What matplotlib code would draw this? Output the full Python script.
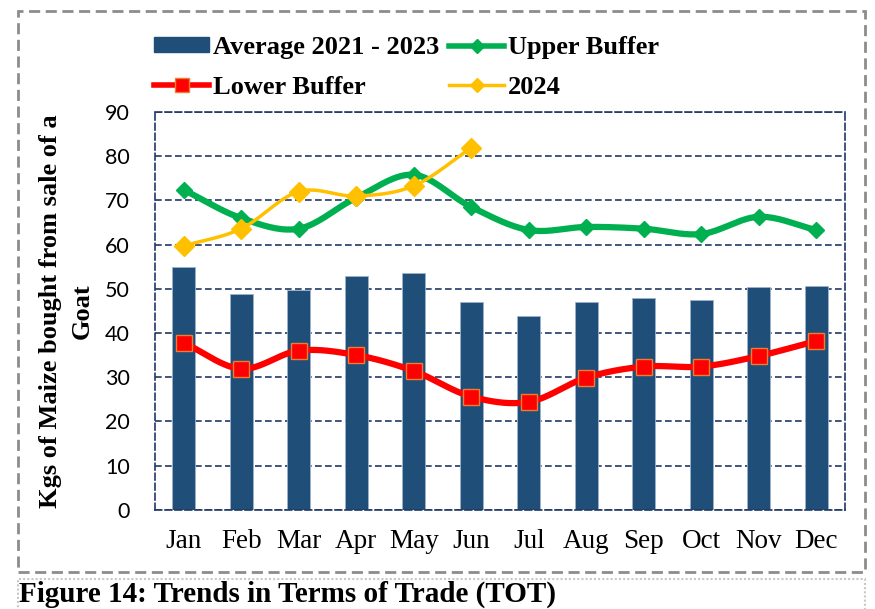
import numpy as np
import matplotlib
matplotlib.use('Agg')
import matplotlib.pyplot as plt
from matplotlib.patches import Rectangle

months = ['Jan', 'Feb', 'Mar', 'Apr', 'May', 'Jun',
          'Jul', 'Aug', 'Sep', 'Oct', 'Nov', 'Dec']
avg_2021_2023 = [55.0, 48.9, 49.8, 53.0, 53.6, 47.0, 43.9, 47.0, 48.0, 47.5, 50.5, 50.7]
upper_buffer = [72.4, 66.0, 63.6, 70.6, 75.8, 68.5, 63.3, 64.0, 63.6, 62.4, 66.3, 63.3]
lower_buffer = [37.8, 31.9, 36.0, 35.0, 31.4, 25.6, 24.4, 29.9, 32.4, 32.4, 34.8, 38.2]
y2024 = [59.7, 63.6, 72.0, 71.0, 73.3, 81.9]

NAVY = '#1F3864'
BAR = '#1F4E79'


def smooth(y, n=20):
    # catmull-rom style smoothing like Excel's "smoothed line"
    y = np.asarray(y, dtype=float)
    x = np.arange(len(y), dtype=float)
    px = np.concatenate([[2 * x[0] - x[1]], x, [2 * x[-1] - x[-2]]])
    py = np.concatenate([[2 * y[0] - y[1]], y, [2 * y[-1] - y[-2]]])
    xs, ys = [], []
    for i in range(1, len(px) - 2):
        t = np.linspace(0, 1, n, endpoint=False)
        for p, out in ((px, xs), (py, ys)):
            p0, p1, p2, p3 = p[i - 1], p[i], p[i + 1], p[i + 2]
            out.extend(0.5 * ((2 * p1) + (-p0 + p2) * t
                              + (2 * p0 - 5 * p1 + 4 * p2 - p3) * t ** 2
                              + (-p0 + 3 * p1 - 3 * p2 + p3) * t ** 3))
    xs.append(x[-1])
    ys.append(y[-1])
    return np.array(xs), np.array(ys)


plt.rcParams['font.family'] = 'Liberation Serif'

fig = plt.figure(figsize=(8.75, 6.09), dpi=100)
ax = fig.add_axes([0.177, 0.163, 0.789, 0.653])

x = np.arange(len(months))
ax.bar(x, avg_2021_2023, width=0.4, color=BAR, edgecolor='#9DB3CC', lw=0.6,
       zorder=2, label='Average 2021 - 2023')

sx, sy = smooth(upper_buffer)
ax.plot(sx, sy, color='#00B050', lw=4.5, zorder=3, solid_capstyle='round')
ax.plot(x, upper_buffer, ls='none', marker='D', ms=8, color='#00B050', zorder=3)

sx, sy = smooth(lower_buffer)
ax.plot(sx, sy, color='#FF0000', lw=4.5, zorder=4, solid_capstyle='round')
ax.plot(x, lower_buffer, ls='none', marker='s', ms=11, color='#FF0000',
        mec='#ED7D31', mew=1, zorder=4)

sx, sy = smooth(y2024)
ax.plot(sx, sy, color='#FFC000', lw=2.5, zorder=5, solid_capstyle='round')
ax.plot(x[:len(y2024)], y2024, ls='none', marker='D', ms=10, color='#FFC000', zorder=5)

# legend handles
h_bar = Rectangle((0, 0), 1, 1, color=BAR)
h_up, = ax.plot([], [], color='#00B050', lw=4, marker='D', ms=7)
h_lo, = ax.plot([], [], color='#FF0000', lw=4, marker='s', ms=10, mec='#ED7D31')
h_24, = ax.plot([], [], color='#FFC000', lw=2.5, marker='D', ms=7)
fig.legend([h_bar, h_lo, h_up, h_24],
           ['Average 2021 - 2023', 'Lower Buffer', 'Upper Buffer', '2024'],
           ncol=2, loc='upper left', bbox_to_anchor=(0.161, 0.962),
           frameon=False, prop={'weight': 'bold', 'size': 19},
           handlelength=2.1, handleheight=0.5, handletextpad=0.15,
           columnspacing=0.35, labelspacing=0.62, borderpad=0)

ax.set_xlim(-0.5, 11.5)
ax.set_ylim(0, 90)
ax.set_yticks(np.arange(0, 91, 10))
ax.set_xticks(x)
ax.set_xticklabels(months)
ax.tick_params(axis='x', length=0, labelsize=19.5, pad=14)
ax.tick_params(axis='y', length=0, labelsize=15.5, pad=18)
for lab in ax.get_yticklabels():
    lab.set_family('Lato')
ax.yaxis.grid(True, color=NAVY, ls=(0, (4, 2)), lw=1.2, zorder=0)
ax.set_axisbelow(True)
for s in ax.spines.values():
    s.set_color(NAVY)
    s.set_linestyle((0, (4, 2)))
    s.set_linewidth(1.2)

ax.set_ylabel('Kgs of Maize bought from sale of a\nGoat', fontsize=19,
              fontweight='bold', labelpad=8, linespacing=1.5)

# outer dashed frame and caption box
fig.patches.append(Rectangle((0.021, 0.061), 0.968, 0.921, transform=fig.transFigure,
                             fill=False, ec='#8C8C8C', lw=2, ls=(0, (4, 2))))
fig.patches.append(Rectangle((0.021, -0.05), 0.968, 0.1, transform=fig.transFigure,
                             fill=False, ec='#C8C8C8', lw=1.5, ls=(0, (1, 1))))
fig.text(0.022, 0.024, 'Figure 14: Trends in Terms of Trade (TOT)', fontsize=21,
         fontweight='bold', va='center', ha='left')

fig.savefig('out.png', dpi=100)
